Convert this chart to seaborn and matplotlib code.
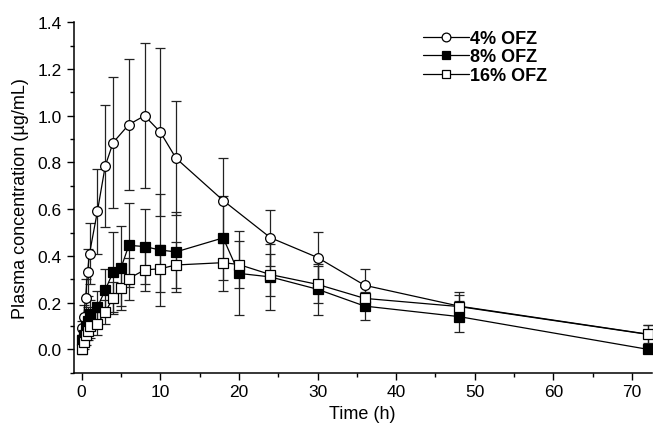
import matplotlib
matplotlib.use("Agg")
from matplotlib import pyplot as plt
from matplotlib.ticker import MultipleLocator
import seaborn as sns
import numpy as np
import pandas as pd

# 4% OFZ (open circles)
t_4 = [0.083, 0.25, 0.5, 0.75, 1.0, 2, 3, 4, 6, 8, 10, 12, 18, 24, 30, 36, 48, 72]
c_4 = [0.09, 0.14, 0.22, 0.33, 0.41, 0.59, 0.785, 0.885, 0.962, 1.0, 0.93, 0.818,
       0.637, 0.478, 0.393, 0.274, 0.185, 0.065]
e_4 = [0.03, 0.05, 0.08, 0.1, 0.13, 0.18, 0.26, 0.28, 0.28, 0.31, 0.36, 0.245,
       0.18, 0.12, 0.11, 0.07, 0.06, 0.04]

# 8% OFZ (filled squares)
t_8 = [0.083, 0.25, 0.5, 0.75, 1.0, 2, 3, 4, 5, 6, 8, 10, 12, 18, 20, 24, 30, 36, 48, 72]
c_8 = [0.04, 0.06, 0.1, 0.12, 0.15, 0.18, 0.254, 0.331, 0.348, 0.445, 0.44, 0.425,
       0.417, 0.477, 0.325, 0.31, 0.257, 0.185, 0.14, 0.0]
e_8 = [0.02, 0.03, 0.05, 0.06, 0.06, 0.07, 0.09, 0.17, 0.18, 0.18, 0.16, 0.24,
       0.17, 0.18, 0.18, 0.14, 0.11, 0.06, 0.065, 0.01]

# 16% OFZ (open squares)
t_16 = [0.083, 0.25, 0.5, 0.75, 1.0, 2, 3, 4, 5, 6, 8, 10, 12, 18, 20, 24, 30, 36, 48, 72]
c_16 = [0.0, 0.03, 0.06, 0.08, 0.1, 0.11, 0.16, 0.22, 0.264, 0.303, 0.34, 0.345,
        0.361, 0.371, 0.363, 0.32, 0.278, 0.218, 0.183, 0.064]
e_16 = [0.02, 0.03, 0.04, 0.04, 0.05, 0.05, 0.05, 0.07, 0.08, 0.09, 0.09, 0.1,
        0.1, 0.12, 0.1, 0.09, 0.08, 0.05, 0.05, 0.04]

series = [
    ("4% OFZ", t_4, c_4, e_4, "o", "white"),
    ("8% OFZ", t_8, c_8, e_8, "s", "black"),
    ("16% OFZ", t_16, c_16, e_16, "s", "white"),
]

sns.set_style("ticks")
plt.rcParams['font.family'] = ['Liberation Sans', 'DejaVu Sans']
plt.rcParams.update({"text.color": "black", "axes.labelcolor": "black",
                     "xtick.color": "black", "ytick.color": "black",
                     "axes.edgecolor": "black"})

fig = plt.figure(figsize=(6.53, 4.31), dpi=100)
ax = fig.add_axes([0.113, 0.133, 0.885, 0.813])

for label, t, c, e, mk, fc in series:
    df = pd.DataFrame({"time": t, "conc": c})
    ax.errorbar(t, c, yerr=e, fmt="none", ecolor="#222222", elinewidth=0.9,
                capsize=3.5, capthick=0.9, zorder=2)
    sns.lineplot(data=df, x="time", y="conc", ax=ax, color="black", linewidth=0.9,
                 marker=mk, markersize=7, markerfacecolor=fc,
                 markeredgecolor="black", markeredgewidth=0.9, label=label,
                 zorder=3)

ax.set_xlim(-1, 72.5)
ax.set_ylim(-0.1, 1.4)
ax.xaxis.set_major_locator(MultipleLocator(10))
ax.xaxis.set_minor_locator(MultipleLocator(5))
ax.yaxis.set_major_locator(MultipleLocator(0.2))
ax.yaxis.set_minor_locator(MultipleLocator(0.1))
ax.yaxis.set_major_formatter(matplotlib.ticker.FormatStrFormatter("%.1f"))
ax.tick_params(which="major", direction="out", length=5, width=1, labelsize=12.5)
ax.tick_params(which="minor", direction="out", length=3, width=1)
for s in ["left", "bottom"]:
    ax.spines[s].set_linewidth(1.1)
sns.despine(ax=ax)

ax.set_xlabel("Time (h)", fontsize=13)
ax.set_ylabel("Plasma concentration (µg/mL)", fontsize=13, labelpad=6)

leg = ax.legend(loc="upper left", bbox_to_anchor=(0.605, 0.978), frameon=False,
                handlelength=2.5, handletextpad=0.08, labelspacing=0.08,
                borderpad=0, borderaxespad=0, markerscale=0.9,
                prop={"weight": "bold", "size": 13})

fig.savefig("out.png", dpi=100)
